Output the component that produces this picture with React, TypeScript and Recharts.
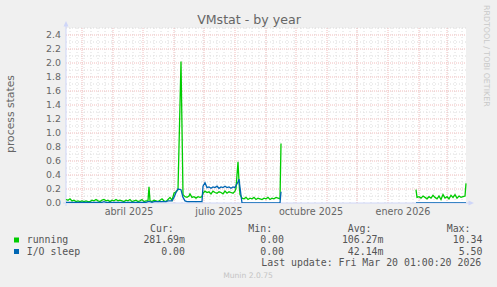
import { LineChart, Line, XAxis, YAxis, ReferenceLine, CartesianGrid } from "recharts";

// day offsets from 13 feb 2025 (1 px per day on the rrdtool canvas)
const days = [
  0, 2, 4, 6, 8, 10, 12, 14, 16, 18, 20, 22, 24, 26, 28, 30, 32, 34, 36, 38,
  40, 42, 44, 46, 48, 50, 52, 54, 56, 58, 60, 62, 64, 66, 68, 70, 72, 74, 76, 78,
  80, 82, 83, 84, 86, 88, 90, 92, 94, 96, 98, 100, 102, 104, 106,
  108, 110, 112, 115, 117, 119, 121, 123, 124, 126, 128, 130, 132, 134, 136,
  137, 139, 141, 143, 145, 147, 149, 151, 153, 155, 157, 159, 161, 163, 165, 167, 169, 170, 172, 173, 174, 176,
  178, 180, 182, 184, 186, 188, 190, 192, 194, 196, 198, 200, 202, 204, 206, 208, 210, 212, 214, 215, 216,
  350, 351, 353, 355, 357, 359, 361, 363, 365, 367, 369, 371, 373, 375, 377, 379, 381, 383, 385, 387, 389, 391, 393, 395, 397, 399, 400,
];

const running = [
  0.05, 0.04, 0.06, 0.03, 0.04, 0.02, 0.03, 0.02, 0.03, 0.02, 0.03, 0.02, 0.02, 0.04, 0.03, 0.05, 0.03, 0.02, 0.04, 0.05,
  0.03, 0.04, 0.02, 0.04, 0.03, 0.05, 0.03, 0.04, 0.03, 0.02, 0.04, 0.03, 0.05, 0.02, 0.03, 0.04, 0.02, 0.03, 0.05, 0.02,
  0.03, 0.03, 0.23, 0.03, 0.02, 0.04, 0.03, 0.02, 0.04, 0.06, 0.03, 0.02, 0.05, 0.08, 0.04,
  0.14, 0.16, 0.19, 2.02, 0.12, 0.09, 0.08, 0.1, 0.13, 0.08, 0.09, 0.07, 0.09, 0.08, 0.09,
  0.14, 0.17, 0.15, 0.16, 0.13, 0.17, 0.15, 0.14, 0.16, 0.15, 0.13, 0.17, 0.14, 0.16, 0.15, 0.14, 0.17, 0.21, 0.59, 0.3, 0.12, 0.07,
  0.06, 0.08, 0.05, 0.07, 0.06, 0.08, 0.05, 0.07, 0.06, 0.05, 0.07, 0.06, 0.08, 0.05, 0.07, 0.06, 0.08, 0.07, 0.06, 0.85, null,
  0.19, 0.08, 0.09, 0.07, 0.1, 0.08, 0.06, 0.09, 0.07, 0.11, 0.08, 0.06, 0.1, 0.05, 0.12, 0.07, 0.09, 0.06, 0.11, 0.08, 0.12, 0.07, 0.1, 0.08, 0.09, 0.1, 0.28,
];

const ioSleep = [
  0.01, 0.01, 0.01, 0.01, 0.01, 0.01, 0.01, 0.01, 0.01, 0.01, 0.01, 0.01, 0.01, 0.01, 0.01, 0.01, 0.01, 0.01, 0.01, 0.02,
  0.01, 0.01, 0.01, 0.01, 0.01, 0.01, 0.01, 0.01, 0.01, 0.01, 0.01, 0.01, 0.01, 0.01, 0.01, 0.01, 0.01, 0.01, 0.01, 0.01,
  0.01, 0.02, 0.02, 0.02, 0.01, 0.02, 0.02, 0.02, 0.02, 0.02, 0.02, 0.02, 0.03, 0.03, 0.03,
  0.08, 0.15, 0.2, 0.19, 0.08, 0.03, 0.02, 0.02, 0.02, 0.02, 0.02, 0.02, 0.02, 0.02, 0.02,
  0.24, 0.29, 0.22, 0.23, 0.21, 0.23, 0.22, 0.24, 0.21, 0.23, 0.22, 0.24, 0.22, 0.23, 0.21, 0.23, 0.22, 0.25, 0.3, 0.34, 0.22, 0,
  0, 0, 0, 0, 0, 0, 0, 0, 0, 0, 0, 0, 0, 0, 0, 0, 0, 0, 0, 0.16, null,
  0, 0, 0, 0, 0, 0, 0, 0, 0, 0, 0, 0, 0, 0, 0, 0, 0, 0, 0, 0, 0, 0, 0, 0, 0, 0, 0,
];

const monthStarts = [16, 47, 77, 108, 138, 169, 200, 230, 261, 291, 322, 353, 381];
const weekStarts: number[] = [];
for (let d = 4; d <= 400; d += 7) weekStarts.push(d);
const labelDays = [63, 153, 245, 337];
const monthLabels = ["abril 2025", "julio 2025", "octubre 2025", "enero 2026"];
const yTicks = [0, 0.2, 0.4, 0.6, 0.8, 1.0, 1.2, 1.4, 1.6, 1.8, 2.0, 2.2, 2.4];
const yMinor = [0.1, 0.3, 0.5, 0.7, 0.9, 1.1, 1.3, 1.5, 1.7, 1.9, 2.1, 2.3, 2.5];

const legendRows = [
  { name: "running", color: "#00CC00", cur: "281.69m", min: "0.00", avg: "106.27m", max: "10.34" },
  { name: "I/O sleep", color: "#0066B3", cur: "0.00", min: "0.00", avg: "42.14m", max: "5.50" },
];

const data = days.map((d, i) => ({ day: d, running: running[i], ioSleep: ioSleep[i] }));

const AXIS = "#CFD6F8";
const FONT = "DejaVu Sans, sans-serif";
const MONO = "DejaVu Sans Mono, monospace";

export default function App() {
  return (
    <div style={{ position: "absolute", left: 0, top: 0, width: 497, height: 287, background: "#F0F0F0" }}>
      <LineChart width={497} height={287} data={data} margin={{ top: 28, right: 31, left: 0, bottom: 0 }}>
        <CartesianGrid horizontal={false} vertical={false} fill="#ffffff" />
        {weekStarts.map((d) => (
          <ReferenceLine key={"w" + d} x={d} stroke="#dcdcdc" strokeDasharray="1 2" />
        ))}
        {yMinor.map((v) => (
          <ReferenceLine key={"ym" + v} y={v} stroke="#dcdcdc" strokeDasharray="1 2" />
        ))}
        {monthStarts.map((d) => (
          <ReferenceLine key={"m" + d} x={d} stroke="#f0bcbc" strokeDasharray="1 1" />
        ))}
        {yTicks.slice(1).map((v) => (
          <ReferenceLine key={"yM" + v} y={v} stroke="#f0bcbc" strokeDasharray="1 1" />
        ))}
        <ReferenceLine y={0} stroke={AXIS} />
        <ReferenceLine x={0} stroke={AXIS} />
        <XAxis
          dataKey="day"
          type="number"
          domain={[0, 400]}
          ticks={labelDays}
          tickFormatter={(v: number) => monthLabels[labelDays.indexOf(v)]}
          height={84}
          axisLine={false}
          tickLine={false}
          tickSize={5}
          tickMargin={0}
          tick={{ fill: "#666", fontSize: 9.6, fontFamily: FONT }}
          interval={0}
        />
        <YAxis
          type="number"
          domain={[0, 2.5]}
          ticks={yTicks}
          tickFormatter={(v: number) => v.toFixed(1)}
          width={66}
          axisLine={false}
          tickLine={false}
          tickSize={4}
          tickMargin={1}
          tick={{ fill: "#666", fontSize: 9.4, fontFamily: FONT }}
          interval={0}
          allowDataOverflow
        />
        <Line type="linear" dataKey="running" stroke="#00CC00" strokeWidth={1.3} dot={false} activeDot={false} isAnimationActive={false} connectNulls={false} />
        <Line type="linear" dataKey="ioSleep" stroke="#0066B3" strokeWidth={1.3} dot={false} activeDot={false} isAnimationActive={false} connectNulls={false} />
      </LineChart>
      <svg width={497} height={287} style={{ position: "absolute", left: 0, top: 0, pointerEvents: "none" }}>
        <line x1={66} y1={26} x2={66} y2={28} stroke={AXIS} />
        <line x1={66} y1={203} x2={66} y2={206} stroke={AXIS} />
        <line x1={63} y1={203} x2={66} y2={203} stroke={AXIS} />
        <line x1={466} y1={203} x2={469} y2={203} stroke={AXIS} />
        <polygon points="63.5,26.5 68.5,26.5 66,21" fill={AXIS} />
        <polygon points="468.5,200.5 468.5,205.5 474,203" fill={AXIS} />
        <text x={249} y={24} textAnchor="middle" fontFamily={FONT} fontSize={12.6} fill="#666">VMstat - by year</text>
        <text transform="translate(14,114) rotate(-90)" textAnchor="middle" fontFamily={FONT} fontSize={10.8} fill="#666">process states</text>
        <text transform="translate(484.3,5) rotate(90)" fontFamily={FONT} fontSize={7.9} fill="#c8c8c8">RRDTOOL / TOBI OETIKER</text>
        <g fontFamily={MONO} fontSize={9.9} fill="#555">
          <text x={150} y={231.5}>Cur:</text>
          <text x={248.3} y={231.5}>Min:</text>
          <text x={347.7} y={231.5}>Avg:</text>
          <text x={446.7} y={231.5}>Max:</text>
          {legendRows.map((r, i) => {
            const y = 243 + i * 11.5;
            return (
              <g key={r.name}>
                <rect x={14} y={y - 5.5} width={5} height={5} fill={r.color} />
                <text x={26.7} y={y}>{r.name}</text>
                <text x={185} y={y} textAnchor="end">{r.cur + (r.cur.endsWith("m") ? "" : " ")}</text>
                <text x={284} y={y} textAnchor="end">{r.min + " "}</text>
                <text x={383.5} y={y} textAnchor="end">{r.avg + (r.avg.endsWith("m") ? "" : " ")}</text>
                <text x={482.5} y={y} textAnchor="end">{r.max + " "}</text>
              </g>
            );
          })}
          <text x={261.3} y={266}>Last update: Fri Mar 20 01:00:20 2026</text>
        </g>
        <text x={248} y={278} textAnchor="middle" fontFamily={FONT} fontSize={7.6} fill="#c4c4c4">Munin 2.0.75</text>
      </svg>
    </div>
  );
}
